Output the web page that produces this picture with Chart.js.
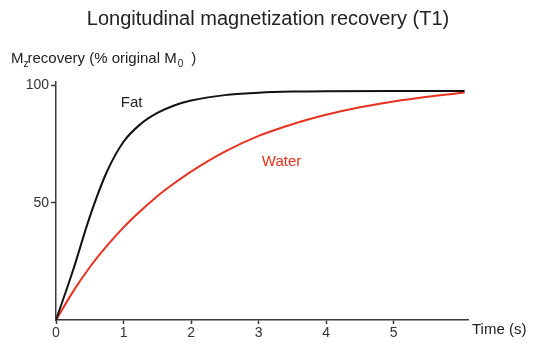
<!DOCTYPE html>
<html>
<head>
<meta charset="utf-8">
<script src="https://cdn.jsdelivr.net/npm/chart.js@4"></script>
<style>
  html, body { margin: 0; padding: 0; background: #fff; }
  #wrap { width: 536px; height: 343px; }
</style>
</head>
<body>
<div id="wrap"><canvas id="t1Chart" width="536" height="343"></canvas></div>
<script>
// data (time in s, % of original M0)
const fatTime   = [0, 0.25, 0.5, 0.75, 1.0, 1.25, 1.5, 1.75, 2.0, 2.5, 3.0, 3.5, 4.0, 5.0, 6.05];
const fatValues = [0, 21, 44, 63, 76, 83.5, 88.3, 91.5, 93.6, 95.9, 96.9, 97.4, 97.6, 97.7, 97.7];
const waterTime   = [0, 0.25, 0.5, 0.75, 1.0, 1.25, 1.5, 1.75, 2.0, 2.5, 3.0, 3.5, 4.0, 4.5, 5.0, 5.5, 6.05];
const waterValues = [0, 12, 22.5, 31.5, 39.5, 46.5, 52.8, 58.3, 63.3, 71.8, 78.5, 83.5, 87.5, 90.7, 93.2, 95.2, 97];
const xTicks = [0, 1, 2, 3, 4, 5];
const yTicks = [50, 100];

const FONT = 'Liberation Sans, Arial, sans-serif';
const AXIS = '#3a3a3a';

function toPoints(xs, ys) {
    return xs.map((x, i) => ({ x: x, y: ys[i] }));
}

// titles and curve labels drawn on top
const textPlugin = {
    id: 'texts',
    afterDraw(chart) {
        const ctx = chart.ctx;
        const xs = chart.scales.x, ys = chart.scales.y;
        ctx.save();
        ctx.fillStyle = '#222';
        ctx.textBaseline = 'alphabetic';

        ctx.font = '20px ' + FONT;
        ctx.textAlign = 'center';
        ctx.fillText('Longitudinal magnetization recovery (T1)', 268, 25);

        // y axis label with subscripts
        ctx.textAlign = 'left';
        let x = 11;
        const base = 63;
        ctx.font = '15px ' + FONT;
        ctx.fillText('M', x, base); x += ctx.measureText('M').width;
        ctx.font = '10px ' + FONT;
        ctx.fillText('z', x, base + 4); x += ctx.measureText('z').width - 1;
        ctx.font = '15px ' + FONT;
        const mid = 'recovery (% original M';
        ctx.fillText(mid, x, base); x += ctx.measureText(mid).width;
        ctx.font = '10px ' + FONT;
        ctx.fillText('0', x + 1, base + 4); x += ctx.measureText('0').width + 9;
        ctx.font = '15px ' + FONT;
        ctx.fillText(')', x, base);

        // x axis title at the end of the axis
        ctx.fillText('Time (s)', xs.right + 4, 334);

        // curve labels
        ctx.textAlign = 'center';
        ctx.textBaseline = 'middle';
        ctx.font = '15px ' + FONT;
        ctx.fillStyle = '#222';
        ctx.fillText('Fat', xs.getPixelForValue(1.12), ys.getPixelForValue(92.7));
        ctx.fillStyle = '#e8321e';
        ctx.fillText('Water', xs.getPixelForValue(3.34), ys.getPixelForValue(67.5));
        ctx.restore();
    }
};

new Chart(document.getElementById('t1Chart'), {
    type: 'line',
    data: {
        datasets: [
            {
                label: 'Fat',
                data: toPoints(fatTime, fatValues),
                borderColor: '#111',
                borderWidth: 2,
                pointRadius: 0,
                cubicInterpolationMode: 'monotone',
                fill: false
            },
            {
                label: 'Water',
                data: toPoints(waterTime, waterValues),
                borderColor: '#e8321e',
                borderWidth: 2,
                pointRadius: 0,
                cubicInterpolationMode: 'monotone',
                fill: false
            }
        ]
    },
    options: {
        responsive: false,
        animation: false,
        layout: { padding: { top: 82, right: 68, left: 0, bottom: 0 } },
        plugins: {
            legend: { display: false },
            tooltip: { enabled: false },
            title: { display: false }
        },
        scales: {
            x: {
                type: 'linear',
                min: 0,
                max: 6.1,
                afterBuildTicks: s => { s.ticks = xTicks.map(v => ({ value: v })); },
                afterFit: s => { s.height = 23; },
                grid: { drawOnChartArea: false, tickLength: 4, color: AXIS, tickWidth: 1.5 },
                border: { color: AXIS, width: 1.5 },
                ticks: { color: '#333', font: { family: FONT, size: 14 }, padding: 1, maxRotation: 0 }
            },
            y: {
                type: 'linear',
                min: 0,
                max: 101.5,
                afterBuildTicks: s => { s.ticks = yTicks.map(v => ({ value: v })); },
                afterFit: s => { s.width = 56; },
                grid: { drawOnChartArea: false, tickLength: 5, color: AXIS, tickWidth: 1.5 },
                border: { color: AXIS, width: 1.5 },
                ticks: { color: '#333', font: { family: FONT, size: 14 }, padding: 2 }
            }
        }
    },
    plugins: [textPlugin]
});
</script>
</body>
</html>
